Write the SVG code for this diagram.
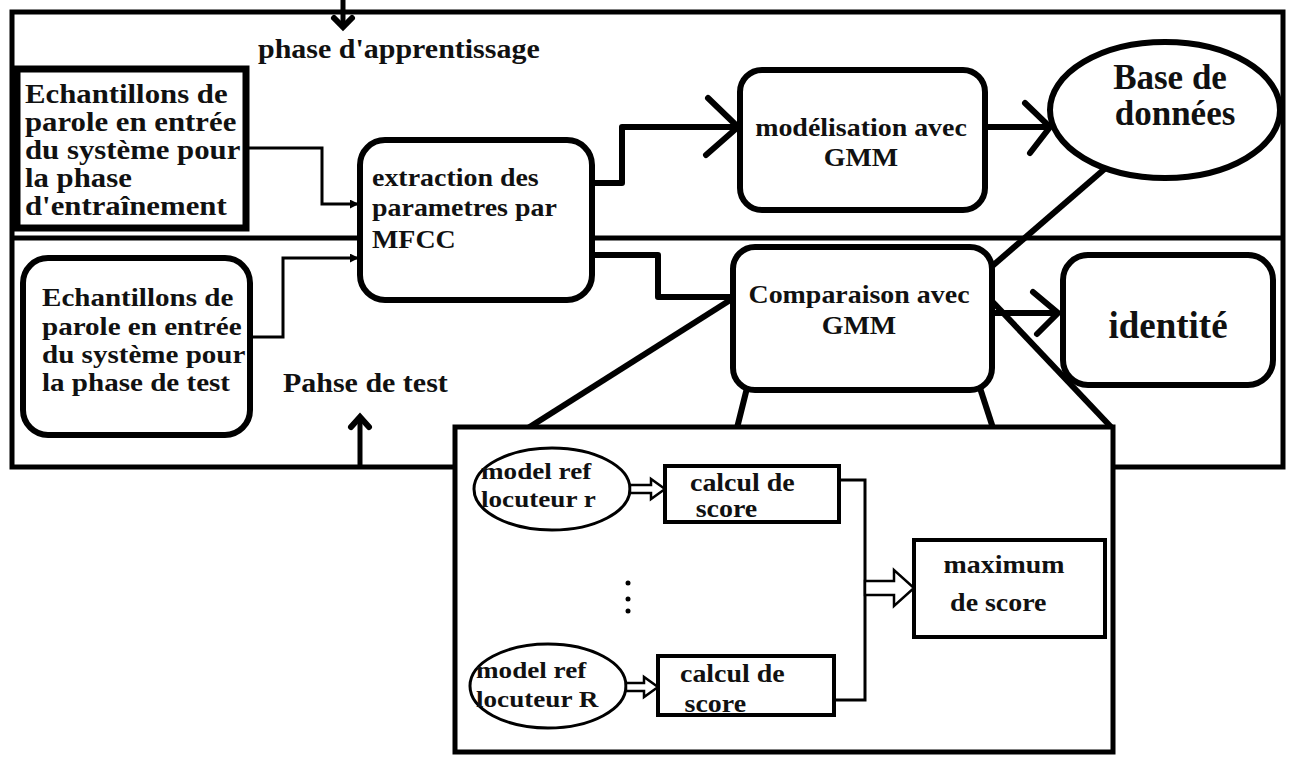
<svg xmlns="http://www.w3.org/2000/svg" width="1292" height="760" viewBox="0 0 1292 760">
  <defs>
    <style>
      text { font-family: "Liberation Serif", "Times New Roman", serif; font-weight: bold; fill: #111; }
      .f27 { font-size: 27px; }
      .f26 { font-size: 26.3px; }
      .f25 { font-size: 25.5px; }
      .f24 { font-size: 24.5px; }
      .f23 { font-size: 23.8px; }
      .big { font-size: 35px; }
      .mid { text-anchor: middle; }
      .frame { fill: none; stroke: #000; stroke-width: 5; }
      .box { fill: #fff; stroke: #000; stroke-width: 6; }
      .thin { fill: none; stroke: #000; stroke-width: 3; }
      .wire { fill: none; stroke: #000; stroke-width: 6; stroke-linejoin: round; }
      .chev { fill: none; stroke: #000; stroke-width: 6; stroke-linecap: round; stroke-linejoin: miter; }
      .hollow { fill: #fff; stroke: #000; stroke-width: 2.5; }
      .sbox { fill: #fff; stroke: #000; stroke-width: 4; }
    </style>
    <marker id="tip" viewBox="0 0 10 10" refX="9" refY="5" markerWidth="9" markerHeight="9" markerUnits="userSpaceOnUse" orient="auto">
      <path d="M0,0 L10,5 L0,10 Z" fill="#000"/>
    </marker>
  </defs>

  <rect width="1292" height="760" fill="#fff"/>

  <!-- outer frame split into training (top) and test (bottom) bands -->
  <g id="frame">
    <rect class="frame" x="12" y="12" width="1271" height="455"/>
    <line class="frame" x1="12" y1="238" x2="1283" y2="238"/>
  </g>

  <!-- labels use a slightly widened serif: each text block is scaled 1.14 horizontally -->
  <g id="label-apprentissage">
    <line x1="343" y1="0" x2="343" y2="26" stroke="#000" stroke-width="5"/>
    <polyline class="chev" points="334,18 343,27 352,18"/>
    <g transform="translate(258,0) scale(1.14,1)">
      <text class="f26" x="0" y="58">phase d'apprentissage</text>
    </g>
  </g>

  <g id="label-test">
    <line x1="360" y1="467" x2="360" y2="418" stroke="#000" stroke-width="5"/>
    <polyline class="chev" points="351,427 360,417 369,427"/>
    <g transform="translate(283,0) scale(1.14,1)">
      <text class="f26" x="0" y="392">Pahse de test</text>
    </g>
  </g>

  <g id="connectors">
    <polyline class="thin" points="246,148 322,148 322,204 358,204" marker-end="url(#tip)"/>
    <polyline class="thin" points="250,337 283,337 283,258 358,258" marker-end="url(#tip)"/>
    <polyline class="wire" points="592,183 622,183 622,127 738,127"/>
    <polyline class="chev" points="708,98 738,127 706,155"/>
    <line class="wire" x1="985" y1="127" x2="1048" y2="127"/>
    <polyline class="chev" points="1025,103 1050,127 1030,153"/>
    <polyline class="wire" points="592,255 658,255 658,297 735,297"/>
    <line class="wire" x1="992" y1="313" x2="1058" y2="313"/>
    <polyline class="chev" points="1033,292 1058,313 1037,334"/>
    <line class="wire" x1="1108" y1="166" x2="990" y2="268"/>
    <!-- zoom lines from the comparison block to its detail view -->
    <line class="wire" x1="735" y1="297" x2="528" y2="428"/>
    <line class="wire" x1="747" y1="388" x2="737" y2="428"/>
    <line class="wire" x1="980" y1="388" x2="993" y2="428"/>
    <line class="wire" x1="988" y1="297" x2="1112" y2="428"/>
  </g>

  <g id="train-input">
    <rect x="17" y="69" width="229" height="159" fill="#fff" stroke="#000" stroke-width="7"/>
    <g transform="translate(25,0) scale(1.14,1)">
      <text class="f27" x="0" y="103">Echantillons de</text>
      <text class="f27" x="0" y="131">parole en entrée</text>
      <text class="f27" x="0" y="159">du système pour</text>
      <text class="f27" x="0" y="187">la phase</text>
      <text class="f27" x="0" y="215">d'entraînement</text>
    </g>
  </g>

  <g id="test-input">
    <rect class="box" x="23" y="258" width="227" height="177" rx="25"/>
    <g transform="translate(42,0) scale(1.14,1)">
      <text class="f25" x="0" y="306">Echantillons de</text>
      <text class="f25" x="0" y="335">parole en entrée</text>
      <text class="f25" x="0" y="363">du système pour</text>
      <text class="f25" x="0" y="391">la phase de test</text>
    </g>
  </g>

  <g id="mfcc">
    <rect class="box" x="360" y="140" width="232" height="160" rx="25"/>
    <g transform="translate(372,0) scale(1.14,1)">
      <text class="f24" x="0" y="186">extraction des</text>
      <text class="f24" x="0" y="216">parametres par</text>
      <text class="f24" x="0" y="248">MFCC</text>
    </g>
  </g>

  <g id="modelisation">
    <rect class="box" x="740" y="70" width="245" height="140" rx="22"/>
    <g transform="translate(861,0) scale(1.14,1)">
      <text class="f24 mid" x="0" y="136">modélisation avec</text>
      <text class="f24 mid" x="0" y="166">GMM</text>
    </g>
  </g>

  <g id="base">
    <ellipse cx="1165" cy="110" rx="115" ry="68" fill="#fff" stroke="#000" stroke-width="6"/>
    <text class="big mid" x="1170" y="89">Base de</text>
    <text class="big mid" x="1175" y="125">données</text>
  </g>

  <g id="comparaison">
    <rect class="box" x="733" y="247" width="259" height="143" rx="22"/>
    <g transform="translate(859,0) scale(1.14,1)">
      <text class="f24 mid" x="0" y="303">Comparaison avec</text>
      <text class="f24 mid" x="0" y="334">GMM</text>
    </g>
  </g>

  <g id="identite">
    <rect class="box" x="1063" y="255" width="210" height="130" rx="25"/>
    <text class="big mid" x="1168" y="338" style="font-size:37px">identité</text>
  </g>

  <!-- detail of the comparison block -->
  <g id="detail">
    <rect x="455" y="427" width="658" height="325" fill="#fff" stroke="#000" stroke-width="5"/>
  </g>

  <g id="model-r">
    <ellipse cx="552" cy="489" rx="78" ry="41" fill="#fff" stroke="#000" stroke-width="3"/>
    <g transform="translate(481,0) scale(1.14,1)">
      <text class="f23" x="0" y="479">model ref</text>
      <text class="f23" x="0" y="507">locuteur r</text>
    </g>
  </g>

  <g id="score-r">
    <rect class="sbox" x="665" y="466" width="174" height="56"/>
    <g transform="translate(690,0) scale(1.14,1)">
      <text class="f24" x="0" y="491">calcul de</text>
      <text class="f24" x="5" y="517">score</text>
    </g>
  </g>

  <g id="dots">
    <circle cx="628" cy="583" r="2.5" fill="#000"/>
    <circle cx="628" cy="599" r="2.5" fill="#000"/>
    <circle cx="628" cy="611" r="2.5" fill="#000"/>
  </g>

  <g id="model-R">
    <ellipse cx="548" cy="686" rx="78" ry="42" fill="#fff" stroke="#000" stroke-width="3"/>
    <g transform="translate(476,0) scale(1.14,1)">
      <text class="f23" x="0" y="678">model ref</text>
      <text class="f23" x="0" y="707">locuteur R</text>
    </g>
  </g>

  <g id="score-R">
    <rect class="sbox" x="658" y="656" width="176" height="59"/>
    <g transform="translate(680,0) scale(1.14,1)">
      <text class="f24" x="0" y="682">calcul de</text>
      <text class="f24" x="4" y="712">score</text>
    </g>
  </g>

  <g id="maximum">
    <rect class="sbox" x="914" y="540" width="191" height="97"/>
    <g transform="translate(1004,0) scale(1.14,1)">
      <text class="f24 mid" x="0" y="573">maximum</text>
      <text class="f24 mid" x="-5" y="611">de score</text>
    </g>
  </g>

  <g id="detail-connectors">
    <polyline class="thin" points="839,480 865,480 865,700 834,700"/>
    <polygon class="hollow" points="630,485 651,485 651,479 665,489 651,499 651,493 630,493"/>
    <polygon class="hollow" points="626,683 644,683 644,677 658,687 644,697 644,691 626,691"/>
    <polygon class="hollow" points="865,581 894,581 894,570 914,588 894,606 894,595 865,595"/>
  </g>
</svg>
